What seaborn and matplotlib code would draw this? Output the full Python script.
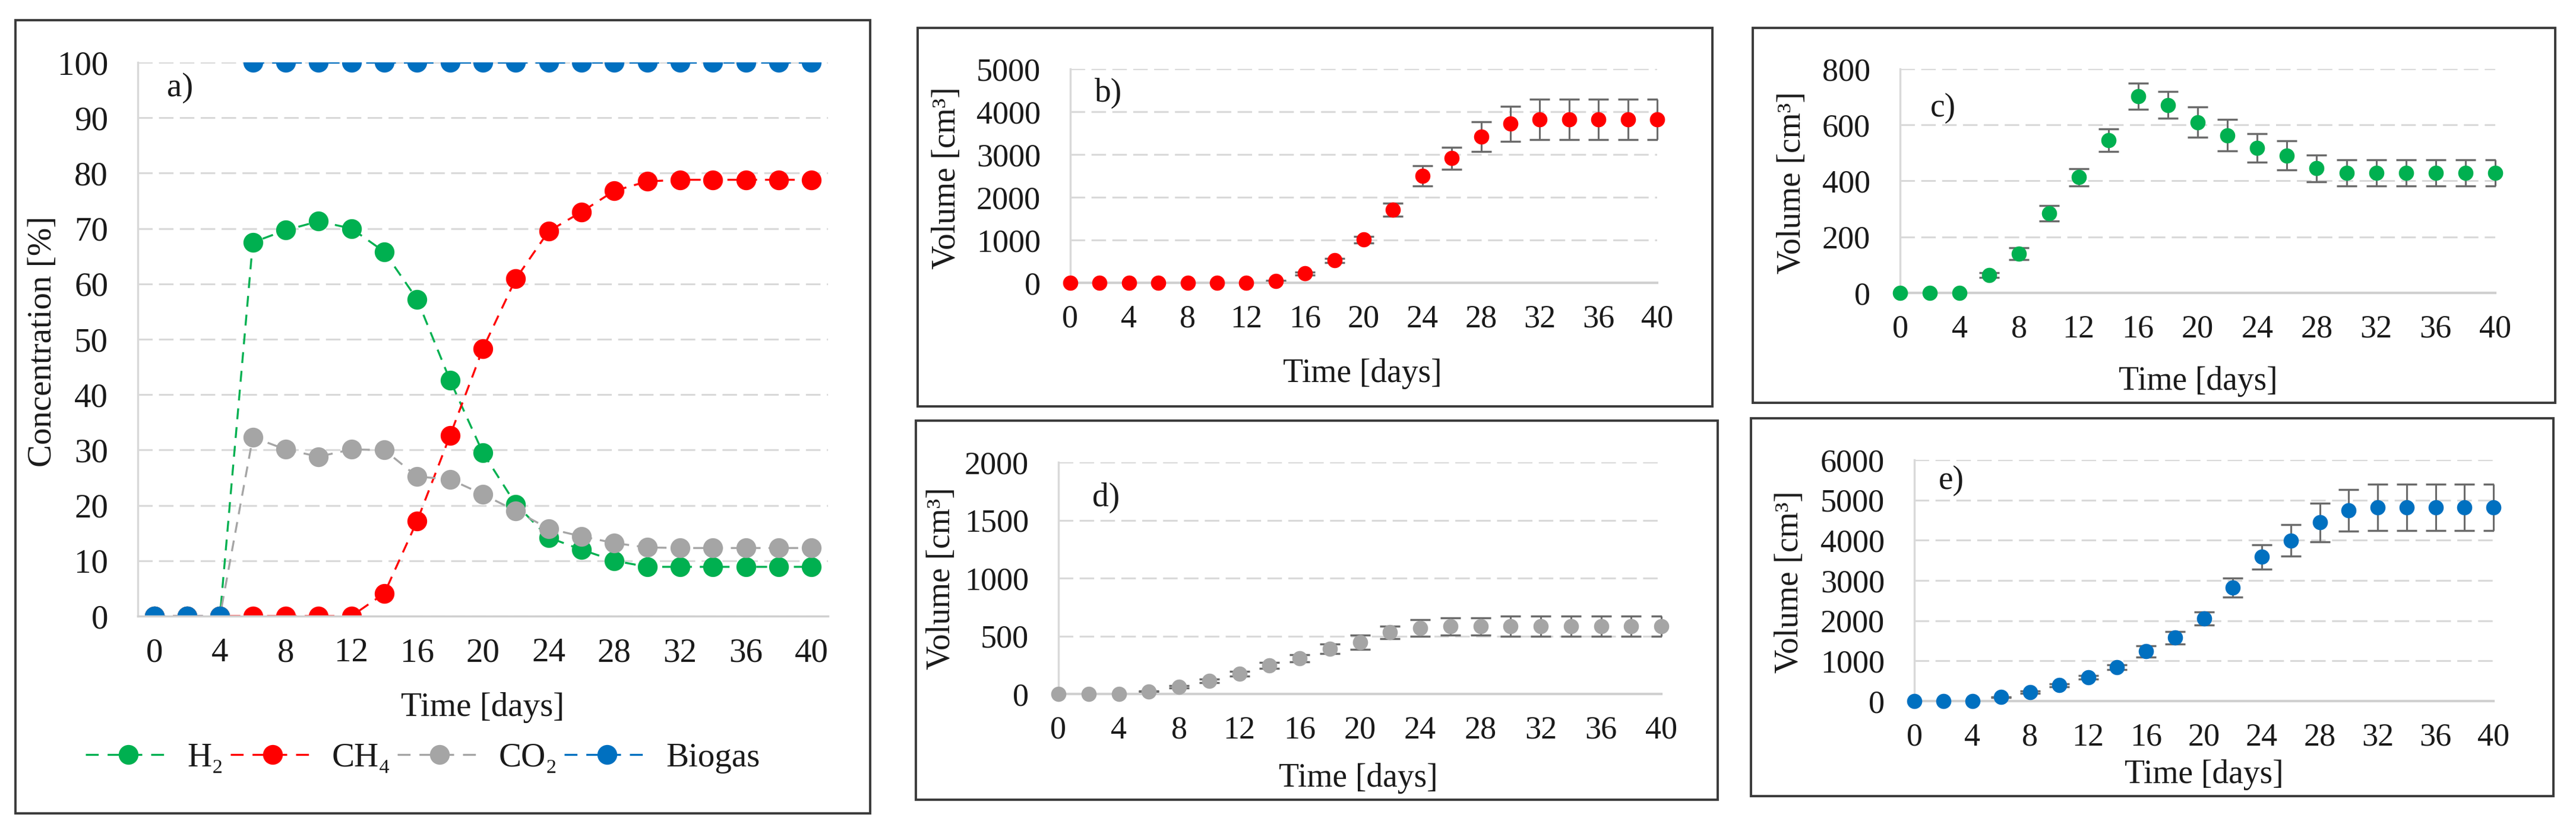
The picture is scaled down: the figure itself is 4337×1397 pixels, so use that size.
import matplotlib
matplotlib.use("Agg")
import matplotlib.pyplot as plt
from matplotlib.lines import Line2D
from matplotlib.patches import Rectangle
import seaborn as sns

# sampling days (same for every panel)
days = [0, 2, 4, 6, 8, 10, 12, 14, 16, 18, 20, 22, 24, 26, 28, 30, 32, 34, 36, 38, 40]
day_ticks = [0, 4, 8, 12, 16, 20, 24, 28, 32, 36, 40]

# a) gas composition [%]
conc_h2 = [0, 0, 0, 67.5, 69.7, 71.3, 70.0, 65.8, 57.2, 42.6, 29.5, 20.2, 14.2, 12.0,
           10.0, 8.9, 8.9, 8.9, 8.9, 8.9, 8.9]
conc_ch4 = [0, 0, 0, 0, 0, 0, 0, 4.1, 17.2, 32.6, 48.3, 60.9, 69.5, 73.0, 76.8, 78.5,
            78.8, 78.8, 78.8, 78.8, 78.8]
conc_co2 = [0, 0, 0, 32.3, 30.1, 28.8, 30.1, 30.0, 25.2, 24.7, 22.0, 19.0, 15.8, 14.4,
            13.2, 12.4, 12.3, 12.3, 12.3, 12.3, 12.3]
conc_biogas = [0, 0, 0, 100, 100, 100, 100, 100, 100, 100, 100, 100, 100, 100, 100, 100,
               100, 100, 100, 100, 100]

# b) CH4 volume [cm3]
vol_ch4 = [0, 0, 0, 0, 0, 0, 0, 40, 217, 521, 1007, 1710, 2500, 2910, 3419, 3718, 3817,
           3817, 3817, 3817, 3817]
err_ch4 = [0, 0, 0, 0, 0, 0, 0, 10, 30, 50, 70, 150, 230, 255, 350, 410, 470, 470, 470,
           470, 470]
# c) H2 volume
vol_h2 = [0, 0, 0, 64, 140, 284, 413, 546, 702, 671, 610, 563, 518, 491, 445, 429, 429,
          429, 429, 429, 429]
err_h2 = [0, 0, 0, 8, 22, 28, 31, 40, 47, 48, 54, 56, 51, 52, 48, 47, 47, 47, 47, 47, 47]
# d) CO2 volume
vol_co2 = [0, 0, 0, 23, 62, 114, 176, 245, 309, 389, 446, 533, 571, 583, 583, 587, 587,
           587, 587, 587, 587]
err_co2 = [0, 0, 0, 5, 10, 15, 20, 25, 30, 40, 60, 54, 72, 73, 73, 87, 87, 87, 87, 87, 87]
# e) biogas volume
vol_biogas = [0, 0, 0, 99, 217, 394, 591, 841, 1235, 1577, 2057, 2826, 3588, 3996, 4443,
              4738, 4817, 4817, 4817, 4817, 4817]
err_biogas = [0, 0, 0, 10, 30, 40, 50, 60, 138, 155, 165, 240, 305, 395, 483, 516, 575,
              575, 575, 575, 575]

GREEN, RED, GREY, BLUE = "#00b050", "#ff0000", "#a5a5a5", "#0070c0"

sns.set_style("white")
plt.rcParams["font.family"] = ["Liberation Serif", "DejaVu Serif"]
plt.rcParams["text.color"] = "#1a1a1a"

W, H = 4337, 1397
fig = plt.figure(figsize=(W / 100, H / 100), dpi=100)


def px_axes(x0, y0, x1, y1):
    return fig.add_axes([x0 / W, 1 - y1 / H, (x1 - x0) / W, (y1 - y0) / H])


def px_text(x, y, s, **kw):
    fig.text(x / W, 1 - y / H, s, ha="center", va="center", **kw)


def frame(x0, y0, x1, y1):
    fig.patches.append(Rectangle((x0 / W, 1 - y1 / H), (x1 - x0) / W, (y1 - y0) / H,
                                 transform=fig.transFigure, fill=False,
                                 ec="#3a3a3a", lw=2.8))


def style_axes(ax, yticks, fs):
    ax.set_xticks(day_ticks)
    ax.set_yticks(yticks)
    ax.set_ylim(yticks[0], yticks[-1])
    ax.grid(axis="y", color="#d9d9d9", lw=2.2, linestyle=(0, (8, 3.5)))
    ax.grid(axis="x", visible=False)
    ax.set_axisbelow(True)
    for s in ["top", "right"]:
        ax.spines[s].set_visible(False)
    ax.spines["left"].set_color("#d9d9d9")
    ax.spines["left"].set_linewidth(2.5)
    ax.spines["bottom"].set_color("#d0d0d0")
    ax.spines["bottom"].set_linewidth(3)
    ax.tick_params(axis="x", length=0, labelsize=fs, pad=26, labelcolor="#1a1a1a")
    ax.tick_params(axis="y", length=0, labelsize=fs, pad=36, labelcolor="#1a1a1a")
    ax.set_xlabel("")
    ax.set_ylabel("")


# frames of the five panels
frame(26, 34, 1465, 1369)
frame(1545, 47, 2883, 684)
frame(2951, 47, 4302, 678)
frame(1542, 708, 2892, 1346)
frame(2948, 704, 4299, 1340)

# ---- a) concentrations
ax = px_axes(232, 105, 1394, 1037)
line_kw = dict(marker="o", markersize=24, markeredgewidth=0, lw=2.4)
dash = (0, (5.5, 4))
sns.lineplot(x=days, y=conc_h2, ax=ax, color=GREEN, linestyle=dash, **line_kw)
sns.lineplot(x=days, y=conc_ch4, ax=ax, color=RED, linestyle=dash, **line_kw)
sns.lineplot(x=days, y=conc_co2, ax=ax, color=GREY, linestyle=dash, **line_kw)
sns.lineplot(x=days[:3], y=conc_biogas[:3], ax=ax, color=BLUE, linestyle=dash, **line_kw)
sns.lineplot(x=days[3:], y=conc_biogas[3:], ax=ax, color=BLUE, linestyle=dash, **line_kw)
ax.set_xlim(-1, 41)
style_axes(ax, [0, 10, 20, 30, 40, 50, 60, 70, 80, 90, 100], 41)
ax.spines["bottom"].set_linewidth(2.5)

px_text(303, 148, "a)", fontsize=41)
px_text(813, 1191, "Time [days]", fontsize=41)
px_text(72, 575, "Concentration [%]", fontsize=41, rotation=90)

# legend handles: "- - o - -"
handles = [Line2D([], [], color=c, linestyle=(0, (6.5, 4.5)), **line_kw)
           for c in (GREEN, RED, GREY, BLUE)]
fig.legend(handles, ["H₂", "CH₄", "CO₂", "Biogas"], loc="center",
           bbox_to_anchor=(712 / W, 1 - 1276 / H), ncol=4, frameon=False,
           handlelength=2.5, handletextpad=0.5, columnspacing=0.2, fontsize=41)


# ---- b) - e) cumulative volumes with error bars
def volume_panel(rect, vals, errs, color, yticks, label, label_xy, time_xy, ylab_xy):
    ax = px_axes(*rect)
    keep = [i for i, e in enumerate(errs) if e > 0]
    ax.errorbar([days[i] for i in keep], [vals[i] for i in keep],
                yerr=[errs[i] for i in keep], fmt="none", ecolor="#6b6b6b",
                elinewidth=2.2, capsize=12, capthick=2.5, zorder=2)
    sns.scatterplot(x=days, y=vals, ax=ax, color=color, s=340, linewidth=0, zorder=3)
    ax.set_xlim(0, 40)
    style_axes(ax, yticks, 39)
    for c in ax.collections:
        c.set_clip_on(False)
    px_text(*label_xy, label, fontsize=40)
    px_text(*time_xy, "Time [days]", fontsize=40)
    px_text(*ylab_xy, "Volume [cm³]", fontsize=40, rotation=90)


volume_panel((1802, 116, 2790, 476), vol_ch4, err_ch4, RED,
             [0, 1000, 2000, 3000, 4000, 5000], "b)", (1866, 157), (2294, 629), (1594, 300))
volume_panel((3199, 116, 4201, 493), vol_h2, err_h2, GREEN,
             [0, 200, 400, 600, 800], "c)", (3271, 182), (3701, 642), (3017, 308))
volume_panel((1782, 778, 2797, 1168), vol_co2, err_co2, GREY,
             [0, 500, 1000, 1500, 2000], "d)", (1862, 838), (2287, 1310), (1585, 974))
volume_panel((3223, 774, 4198, 1180), vol_biogas, err_biogas, BLUE,
             [0, 1000, 2000, 3000, 4000, 5000, 6000], "e)", (3285, 809), (3711, 1304),
             (3013, 980))

fig.savefig("out.png", dpi=100)
